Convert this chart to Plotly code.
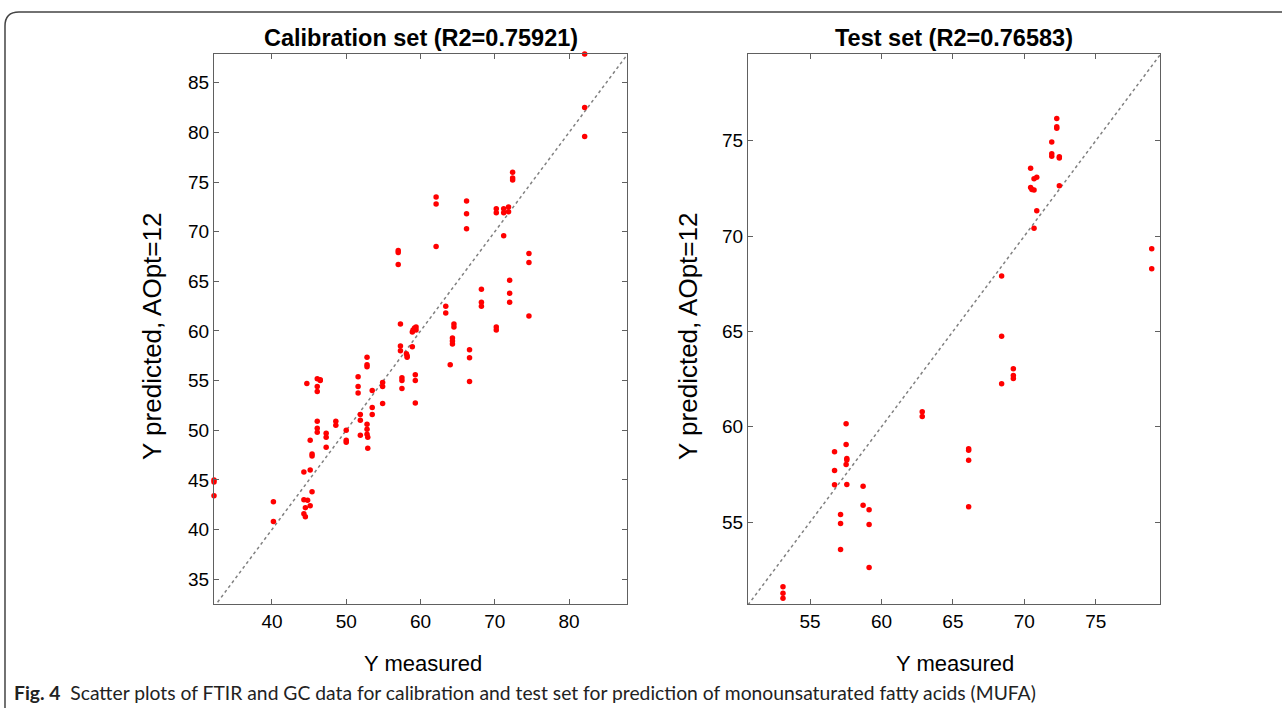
import plotly.graph_objects as go

# ---------------- data ----------------
cal_x = [82.1, 82.1, 82.1, 62.1, 62.1, 66.2, 66.2, 66.2, 70.2, 70.2, 71.2, 71.2, 71.85, 71.85, 71.2,
         72.4, 72.4, 72.4, 62.1, 57.0, 57.0, 57.0, 74.6, 74.6, 72.0, 72.0, 72.0, 74.6,
         68.2, 68.2, 68.2, 63.4, 63.4, 70.2, 70.2, 64.5, 64.5, 64.3, 64.3, 64.3, 64.0,
         66.6, 66.6, 66.6, 57.3, 57.3, 57.3, 58.9, 59.0, 59.2, 59.4, 59.4, 58.9,
         58.1, 58.2, 58.2, 57.5, 57.5, 57.5, 59.3, 59.3, 59.3, 52.8, 52.8, 52.8,
         51.6, 51.6, 51.6, 54.9, 54.9, 54.9, 53.5, 53.5, 53.5, 51.9, 51.9, 52.8, 52.8,
         50.0, 44.7, 46.1, 46.5, 46.5, 46.1, 46.1, 46.1, 46.1, 46.1, 48.6, 48.6,
         47.3, 47.3, 47.3, 50.0, 50.0, 51.9, 52.8, 52.9, 52.9,
         45.15, 45.4, 45.4, 44.3, 45.15, 45.4, 44.3, 44.8, 45.15, 44.5, 44.3, 44.5,
         40.2, 40.2, 32.2, 32.2, 32.2]
cal_y = [87.9, 82.5, 79.6, 73.5, 72.8, 73.1, 71.8, 70.3, 72.3, 71.9, 72.3, 71.9, 72.5, 72.0, 69.6,
         76.0, 75.4, 75.2, 68.5, 68.1, 67.9, 66.7, 67.8, 66.9, 65.1, 63.8, 62.9, 61.5,
         64.2, 62.9, 62.5, 62.5, 61.8, 60.4, 60.1, 60.7, 60.4, 59.3, 59.0, 58.7, 56.6,
         58.1, 57.3, 54.9, 60.7, 58.5, 58.0, 59.9, 60.1, 60.3, 60.4, 60.1, 58.4,
         57.7, 57.5, 57.35, 55.3, 55.0, 54.2, 55.6, 55.0, 52.75, 57.35, 56.6, 56.4,
         55.4, 54.4, 53.75, 54.8, 54.4, 52.7, 54.0, 52.3, 51.6, 51.6, 51.0, 50.6, 50.1,
         50.0, 54.7, 55.2, 55.1, 55.0, 54.4, 53.9, 50.9, 50.2, 49.8, 50.9, 50.5,
         49.7, 49.3, 48.3, 49.0, 48.8, 49.5, 49.6, 49.3, 48.2,
         49.0, 47.6, 47.4, 45.8, 46.0, 43.8, 43.0, 42.95, 42.4, 42.2, 41.6, 41.3,
         42.8, 40.8, 45.0, 44.8, 43.4]

test_x = [72.27, 72.27, 72.27, 71.92, 71.92, 71.92, 72.45, 72.45, 70.44,
          70.44, 70.53, 70.68, 70.68, 70.87, 72.45, 70.87, 70.68,
          78.92, 78.92, 68.41, 68.41, 68.41, 69.23, 69.23, 69.23,
          62.85, 62.85, 57.52, 57.52, 56.71, 57.57, 57.57, 57.52, 56.71, 56.71, 57.57,
          58.71, 58.71, 59.13, 59.13, 59.13, 57.13, 57.13, 57.13,
          66.1, 66.1, 66.1, 66.1, 50.6, 50.6, 50.6, 53.1, 53.1, 53.1]
test_y = [76.17, 75.73, 75.66, 74.93, 74.32, 74.19, 74.16, 74.1, 73.56,
          72.55, 72.44, 72.41, 73.0, 73.09, 72.64, 71.33, 70.41,
          69.33, 68.28, 67.9, 64.75, 62.25, 63.04, 62.69, 62.53,
          60.78, 60.54, 60.15, 59.07, 58.68, 58.33, 58.26, 58.02, 57.7, 56.95, 56.97,
          56.88, 55.88, 55.64, 54.87, 52.61, 55.39, 54.92, 53.56,
          58.84, 58.77, 58.24, 55.8, 53.78, 53.73, 53.05, 51.6, 51.26, 51.0]

cal_ticks_x = [40, 50, 60, 70, 80]
cal_ticks_y = [35, 40, 45, 50, 55, 60, 65, 70, 75, 80, 85]
test_ticks = [55, 60, 65, 70, 75]
cal_range_x = [32.2, 87.8]
cal_range_y = [32.5, 87.9]
test_range_x = [50.65, 79.5]
test_range_y = [50.7, 79.55]

titles = ["Calibration set (R2=0.75921)", "Test set (R2=0.76583)"]
xlabel = "Y measured"
ylabel = "Y predicted, AOpt=12"
caption = "<b>Fig. 4</b>&nbsp;&nbsp;Scatter plots of FTIR and GC data for calibration and test set for prediction of monounsaturated fatty acids (MUFA)"

# ---------------- figure ----------------
W, H = 1282, 708
def fx(p): return p / W
def fy(p): return 1 - p / H

fig = go.Figure()

for (xs, ys, rx, ry, xa, ya) in [(cal_x, cal_y, cal_range_x, cal_range_y, "x", "y"),
                                 (test_x, test_y, test_range_x, test_range_y, "x2", "y2")]:
    lo = min(rx[0], ry[0]); hi = max(rx[1], ry[1])
    fig.add_trace(go.Scatter(x=[lo, hi], y=[lo, hi], mode="lines",
                             line=dict(color="#808080", width=1.5, dash="dot"),
                             xaxis=xa, yaxis=ya, showlegend=False, hoverinfo="skip"))
    fig.add_trace(go.Scatter(x=xs, y=ys, mode="markers",
                             marker=dict(color="#ff0000", size=5.5, line=dict(width=0)),
                             xaxis=xa, yaxis=ya, showlegend=False, cliponaxis=False))

axis_style = dict(showline=True, linecolor="#606060", linewidth=1.2, mirror="ticks",
                  ticks="inside", ticklen=5, tickwidth=1, tickcolor="#606060",
                  showgrid=False, zeroline=False,
                  tickfont=dict(family="Liberation Sans, Arial", size=19, color="black"))

fig.update_layout(
    width=W, height=H, margin=dict(l=0, r=0, t=0, b=0),
    paper_bgcolor="white", plot_bgcolor="white",
    xaxis=dict(domain=[fx(214), fx(627)], range=cal_range_x, tickvals=cal_ticks_x, anchor="y", **axis_style),
    yaxis=dict(domain=[fy(604), fy(54)], range=cal_range_y, tickvals=cal_ticks_y, anchor="x", **axis_style),
    xaxis2=dict(domain=[fx(748), fx(1160)], range=test_range_x, tickvals=test_ticks, anchor="y2", **axis_style),
    yaxis2=dict(domain=[fy(604), fy(54)], range=test_range_y, tickvals=test_ticks, anchor="x2", **axis_style),
)

ann = []
tfont = dict(family="Liberation Sans, Arial", size=23.5, color="black")
lfont = dict(family="Liberation Sans, Arial", size=22, color="black")
for cx, t in [(420.5, titles[0]), (954, titles[1])]:
    ann.append(dict(x=fx(cx), y=fy(38), xref="paper", yref="paper", text="<b>" + t + "</b>",
                    showarrow=False, font=tfont, xanchor="center", yanchor="middle"))
for cx in [423, 955]:
    ann.append(dict(x=fx(cx), y=fy(663), xref="paper", yref="paper", text=xlabel,
                    showarrow=False, font=lfont, xanchor="center", yanchor="middle"))
for cx in [152, 688]:
    ann.append(dict(x=fx(cx), y=fy(337), xref="paper", yref="paper", text=ylabel, textangle=-90,
                    showarrow=False, font=dict(family="Liberation Sans, Arial", size=26, color="black"),
                    xanchor="center", yanchor="middle"))
ann.append(dict(x=fx(12), y=fy(692), xref="paper", yref="paper", text=caption,
                showarrow=False, font=dict(family="Lato, Open Sans", size=19.3, color="#222222"),
                xanchor="left", yanchor="middle"))
fig.update_layout(annotations=ann)

# journal frame (top and left border with rounded corner)
path = "M %f %f L %f %f Q %f %f %f %f L %f %f" % (
    fx(5), fy(708), fx(5), fy(26), fx(5), fy(12), fx(19), fy(12), fx(1282), fy(12))
fig.add_shape(type="path", path=path, xref="paper", yref="paper",
              line=dict(color="#444444", width=1.5))

fig.write_html("out.html", config={"displayModeBar": False},
               post_script="document.body.style.margin='0';document.body.style.overflow='hidden';")
